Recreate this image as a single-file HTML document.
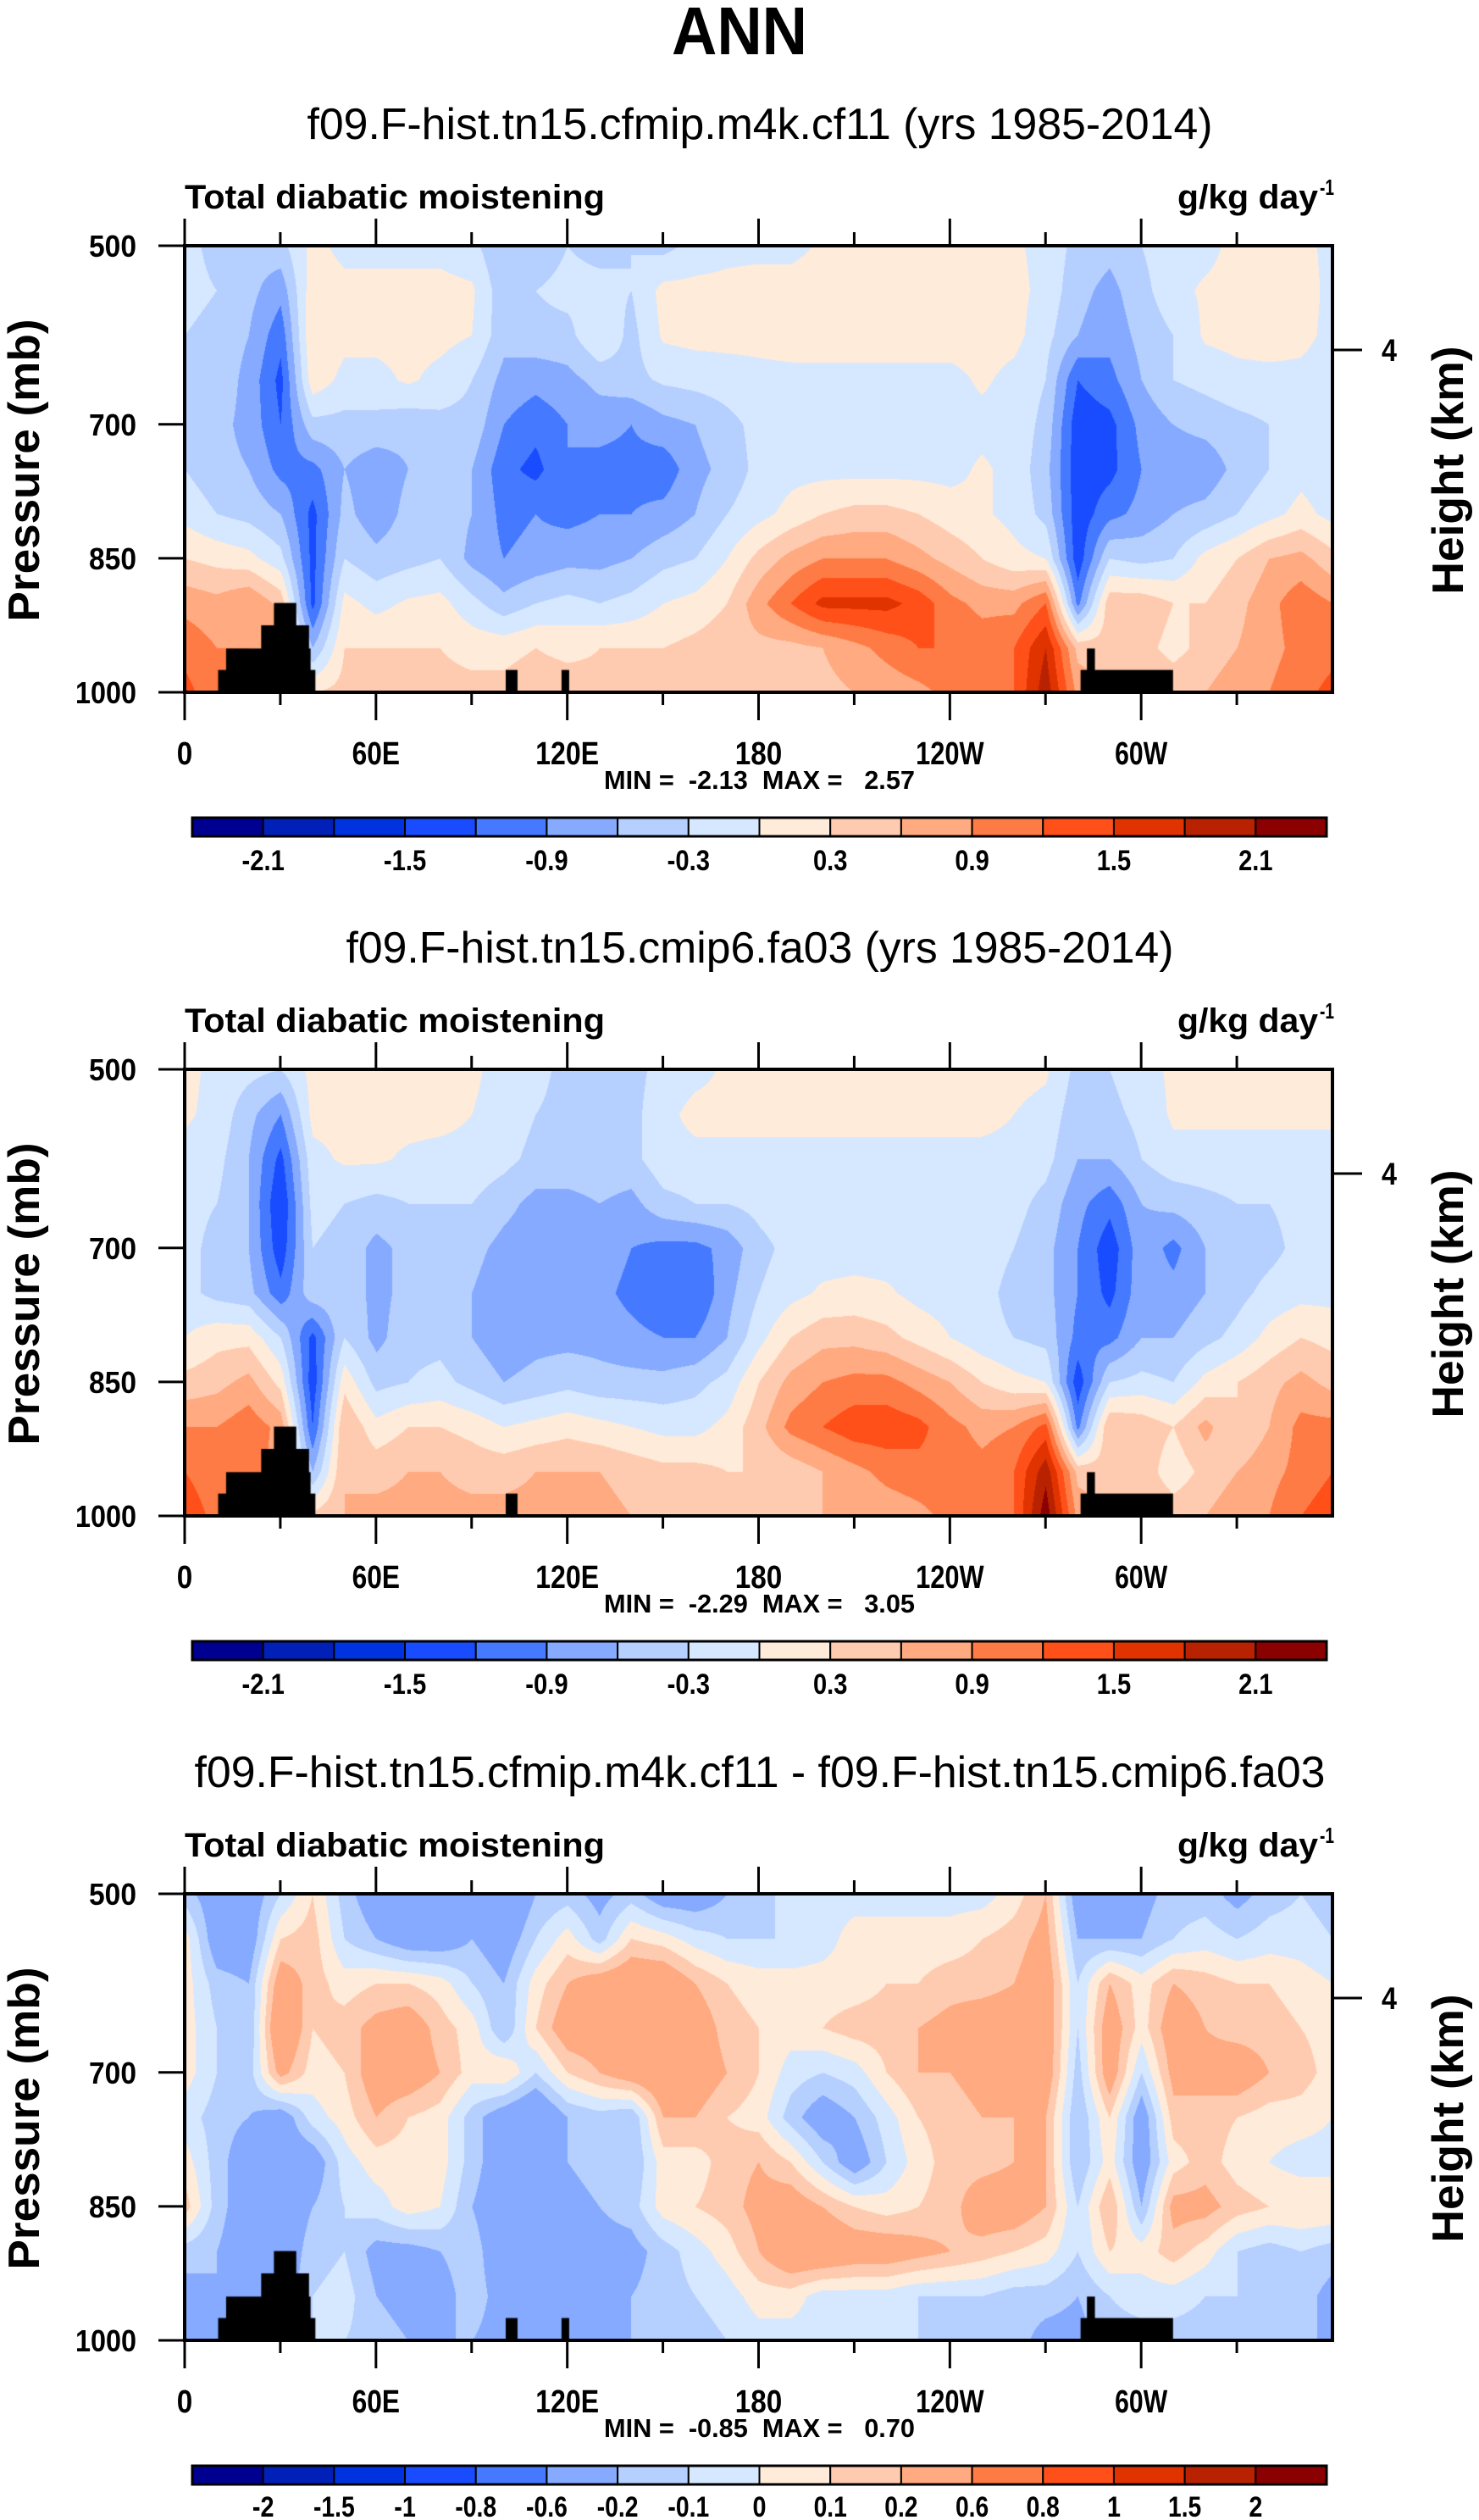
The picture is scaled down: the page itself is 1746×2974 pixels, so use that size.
<!DOCTYPE html>
<html><head><meta charset="utf-8">
<style>
html,body{margin:0;padding:0;background:#fff;}
#root{position:relative;width:1746px;height:2974px;overflow:hidden;background:#fff;}
canvas{position:absolute;}
svg{position:absolute;left:0;top:0;}
text{font-family:"Liberation Sans",sans-serif;fill:#000;white-space:pre;}
</style></head>
<body>
<div id="root">
<canvas id="c1"></canvas>
<canvas id="c2"></canvas>
<canvas id="c3"></canvas>
<svg id="ov" width="1746" height="2974"></svg>
</div>
<script>
// ---------- data ----------
const lons = [0,10,20,30,40,50,60,70,80,90,100,110,120,130,140,150,160,170,180,190,200,210,220,230,240,250,260,270,280,290,300,310,320,330,340,350,360];
const plevs = [500,550,600,650,700,750,800,850,900,950,1000];
const field1 = [
[-0.2,-0.4,-0.5,-0.4,0.1,-0.1,-0.1,-0.1,-0.1,-0.2,-0.6,-0.5,-0.3,-0.4,-0.3,-0.4,-0.2,-0.1,-0.1,-0.1,0.05,0.1,0.1,0.1,0.1,0.1,0.05,-0.1,-0.4,-0.5,-0.3,-0.1,-0.1,0.1,0.1,0.1,-0.1],
[-0.2,-0.3,-0.5,-0.8,0.2,0.1,0.1,0.1,0.1,0.05,-0.5,-0.3,-0.2,-0.2,-0.3,0.1,0.1,0.1,0.15,0.15,0.15,0.15,0.15,0.15,0.15,0.15,0.1,-0.1,-0.5,-0.7,-0.4,-0.1,0.05,0.1,0.15,0.15,-0.1],
[-0.3,-0.4,-0.6,-1.1,0.3,0.1,0.1,0.1,0.1,0.0,-0.5,-0.4,-0.4,0.0,-0.4,0.05,0.1,0.1,0.1,0.15,0.15,0.15,0.15,0.15,0.15,0.15,0.1,-0.2,-0.6,-0.8,-0.5,-0.3,0.05,0.1,0.15,0.1,-0.1],
[-0.3,-0.4,-0.7,-1.3,0.2,-0.1,-0.1,0.05,-0.1,-0.3,-0.7,-0.8,-0.7,-0.5,-0.4,-0.25,-0.2,-0.15,-0.1,-0.1,-0.1,-0.1,-0.1,-0.1,-0.1,0.05,-0.1,-0.3,-1.2,-1.0,-0.6,-0.3,-0.2,-0.1,-0.1,-0.1,-0.2],
[-0.3,-0.5,-0.7,-1.2,-0.4,-0.4,-0.4,-0.5,-0.4,-0.4,-0.9,-1.1,-0.9,-0.8,-0.9,-0.7,-0.6,-0.4,-0.2,-0.15,-0.1,-0.1,-0.1,-0.1,-0.1,-0.1,-0.1,-0.4,-1.4,-1.3,-0.8,-0.6,-0.5,-0.4,-0.3,-0.2,-0.3],
[-0.3,-0.5,-0.6,-1.0,-1.0,-0.6,-0.8,-0.6,-0.5,-0.6,-1.1,-1.3,-0.9,-1.0,-1.0,-1.1,-0.7,-0.5,-0.2,-0.1,-0.1,-0.1,-0.1,-0.1,-0.1,0.05,-0.1,-0.5,-1.4,-1.3,-0.9,-0.8,-0.8,-0.5,-0.3,-0.1,-0.2],
[-0.1,-0.3,-0.4,-0.6,-1.3,-0.5,-0.8,-0.5,-0.4,-0.6,-1.0,-0.9,-1.0,-0.9,-0.9,-0.8,-0.6,-0.3,-0.1,0.1,0.3,0.4,0.4,0.3,0.15,0.05,-0.1,-0.4,-1.4,-1.0,-0.8,-0.6,-0.5,-0.3,-0.1,0.1,-0.1],
[0.3,0.2,0.1,-0.2,-1.3,-0.3,-0.5,-0.4,-0.3,-0.7,-0.9,-0.8,-0.7,-0.7,-0.6,-0.4,-0.3,0.0,0.4,0.7,0.9,0.9,0.9,0.7,0.5,0.3,0.1,0.0,-1.4,-0.3,-0.4,-0.3,0.1,0.3,0.6,0.7,0.4],
[0.8,0.7,0.9,0.5,-1.3,0.1,-0.1,0.05,0.1,-0.2,-0.5,-0.3,-0.2,-0.3,-0.2,0.0,0.1,0.3,0.8,1.2,1.6,1.6,1.6,1.4,1.0,0.8,0.8,1.2,-1.0,0.5,0.5,0.3,0.3,0.5,0.8,1.1,0.9],
[1.1,0.9,0.9,0.8,-0.6,0.3,0.3,0.3,0.3,0.2,0.2,0.3,0.2,0.3,0.3,0.3,0.4,0.5,0.5,0.5,0.6,0.8,1.0,1.2,1.2,1.1,1.2,1.8,0.5,0.4,0.4,0.2,0.4,0.6,0.8,1.0,1.1],
[1.3,1.0,1.0,0.8,0.3,0.4,0.4,0.4,0.4,0.4,0.4,0.5,0.5,0.4,0.4,0.4,0.4,0.4,0.4,0.5,0.5,0.6,0.7,0.8,1.0,1.1,1.2,2.0,0.8,0.6,0.6,0.5,0.6,0.8,0.9,1.1,1.3]
];
const field2 = [
[0.1,-0.1,-0.2,-0.3,0.1,0.1,0.1,0.1,0.1,0.05,-0.1,-0.2,-0.4,-0.3,-0.4,-0.2,-0.1,0.05,0.1,0.1,0.1,0.1,0.1,0.1,0.1,0.1,0.1,0.05,-0.4,-0.3,-0.1,0.05,0.1,0.1,0.1,0.1,0.1],
[0.05,-0.1,-0.5,-0.9,0.1,0.1,0.1,0.1,0.1,0.0,-0.1,-0.3,-0.4,-0.3,-0.4,-0.1,0.1,0.1,0.1,0.1,0.1,0.1,0.1,0.1,0.1,0.1,0.0,-0.1,-0.5,-0.4,-0.2,0.05,0.05,0.05,0.05,0.05,0.05],
[-0.1,-0.2,-0.6,-1.3,-0.1,0.05,0.05,-0.05,-0.1,-0.1,-0.2,-0.4,-0.4,-0.4,-0.4,-0.1,-0.1,-0.1,-0.1,-0.1,-0.1,-0.1,-0.1,-0.1,-0.1,-0.1,-0.1,-0.2,-0.6,-0.6,-0.3,-0.1,-0.1,-0.1,-0.1,-0.1,-0.1],
[-0.2,-0.3,-0.6,-1.5,-0.2,-0.3,-0.4,-0.3,-0.3,-0.3,-0.5,-0.7,-0.7,-0.6,-0.7,-0.4,-0.3,-0.3,-0.2,-0.1,-0.1,-0.1,-0.1,-0.1,-0.1,-0.1,-0.2,-0.4,-0.8,-1.1,-0.6,-0.5,-0.4,-0.3,-0.3,-0.2,-0.2],
[-0.2,-0.4,-0.6,-1.4,-0.3,-0.4,-0.7,-0.5,-0.4,-0.5,-0.7,-0.8,-0.9,-0.7,-0.9,-1.0,-1.0,-0.8,-0.4,-0.2,-0.15,-0.15,-0.15,-0.15,-0.15,-0.15,-0.3,-0.5,-0.9,-1.4,-0.7,-1.0,-0.6,-0.5,-0.4,-0.2,-0.2],
[-0.2,-0.4,-0.5,-1.1,-0.4,-0.4,-0.7,-0.5,-0.4,-0.6,-0.8,-0.9,-0.8,-0.8,-1.0,-1.2,-1.2,-0.7,-0.3,-0.1,0.05,0.1,0.05,-0.1,-0.15,-0.2,-0.4,-0.5,-0.9,-1.3,-0.7,-0.8,-0.6,-0.4,-0.2,-0.1,-0.1],
[0.0,0.2,0.2,-0.3,-1.3,-0.3,-0.7,-0.4,-0.4,-0.6,-0.8,-0.7,-0.7,-0.7,-0.8,-0.9,-0.9,-0.6,-0.1,0.3,0.5,0.5,0.4,0.2,0.0,-0.2,-0.3,-0.4,-1.0,-1.0,-0.6,-0.6,-0.4,-0.2,0.1,0.3,0.2],
[0.4,0.5,0.7,0.2,-1.4,0.2,-0.4,-0.3,-0.2,-0.4,-0.6,-0.5,-0.4,-0.5,-0.5,-0.5,-0.4,-0.2,0.3,0.7,0.9,1.0,1.0,0.8,0.6,0.3,0.1,0.0,-1.4,-0.3,-0.2,-0.3,0.1,0.3,0.5,0.7,0.5],
[0.9,0.9,1.1,0.8,-1.2,0.6,0.1,0.3,0.3,0.2,0.0,0.1,0.2,0.1,0.0,-0.1,-0.1,0.1,0.5,1.0,1.2,1.4,1.4,1.3,1.0,0.8,0.9,1.3,-1.0,0.6,0.5,0.3,0.7,0.3,0.6,1.0,1.0],
[1.2,1.0,1.0,0.8,-0.6,0.6,0.5,0.6,0.6,0.5,0.5,0.6,0.6,0.6,0.5,0.4,0.4,0.3,0.3,0.4,0.6,0.8,1.0,1.1,1.1,1.0,1.2,2.0,0.5,0.4,0.5,0.1,0.4,0.6,0.8,1.0,1.2],
[1.4,1.1,1.0,0.8,0.4,0.6,0.7,0.7,0.7,0.7,0.7,0.7,0.7,0.7,0.6,0.6,0.5,0.5,0.5,0.5,0.6,0.6,0.7,0.8,1.0,1.1,1.2,2.3,0.8,0.6,0.6,0.5,0.6,0.8,0.9,1.2,1.4]
];
const field3 = [
[-0.15,-0.3,-0.3,-0.1,0.1,-0.15,-0.3,-0.3,-0.3,-0.3,-0.4,-0.2,-0.15,-0.25,-0.15,-0.3,-0.3,-0.2,-0.15,-0.05,-0.05,-0.05,-0.05,-0.05,-0.05,-0.05,0.05,0.2,-0.3,-0.3,-0.25,-0.15,-0.15,-0.25,-0.15,-0.1,-0.15],
[0.05,-0.3,-0.3,0.1,0.15,-0.1,-0.2,-0.3,-0.3,-0.2,-0.3,-0.1,0.05,-0.15,0.1,0.05,-0.05,-0.1,-0.1,-0.1,-0.05,0.05,0.05,0.05,0.05,0.1,0.15,0.25,-0.2,-0.2,-0.2,-0.1,-0.05,-0.1,-0.05,-0.05,-0.1],
[0.05,-0.15,-0.2,0.3,0.15,0.05,0.1,0.1,0.05,-0.1,-0.2,0.05,0.2,0.3,0.35,0.35,0.2,0.1,0.05,0.05,0.05,0.05,0.1,0.1,0.15,0.15,0.2,0.3,-0.1,0.2,0.05,0.2,0.15,0.1,0.1,0.05,0.0],
[0.05,-0.1,-0.2,0.4,0.1,0.15,0.25,0.3,0.15,0.05,-0.2,0.1,0.3,0.3,0.35,0.4,0.3,0.15,0.1,0.05,0.1,0.15,0.15,0.2,0.25,0.3,0.3,0.3,-0.1,0.3,0.05,0.3,0.2,0.15,0.15,0.1,0.05],
[0.05,-0.1,-0.15,0.25,0.05,0.1,0.3,0.3,0.2,0.05,0.1,-0.1,0.1,0.2,0.3,0.35,0.3,0.2,0.1,-0.05,-0.1,-0.05,0.1,0.2,0.2,0.25,0.35,0.3,-0.15,0.3,-0.1,0.25,0.25,0.3,0.2,0.15,0.05],
[-0.05,-0.15,-0.2,-0.3,-0.05,0.05,0.2,0.1,0.05,-0.15,-0.3,-0.4,-0.2,-0.15,-0.2,0.2,0.2,0.1,0.05,-0.15,-0.3,-0.2,-0.05,0.1,0.15,0.2,0.2,0.2,-0.2,0.1,-0.3,0.15,0.15,0.1,0.05,0.05,0.0],
[0.05,-0.15,-0.3,-0.3,-0.3,-0.05,0.05,0.05,0.05,-0.15,-0.3,-0.5,-0.2,-0.1,-0.2,0.05,0.05,0.15,0.2,0.1,-0.1,-0.3,-0.1,0.05,0.15,0.15,0.2,0.2,-0.2,0.05,-0.3,0.05,0.15,0.05,0.0,-0.05,-0.05],
[0.15,-0.15,-0.3,-0.3,-0.2,-0.1,-0.05,0.05,0.0,-0.2,-0.3,-0.4,-0.3,-0.2,-0.15,0.05,0.1,0.15,0.25,0.3,0.2,0.1,0.05,0.1,0.15,0.3,0.3,0.2,-0.1,0.2,-0.2,0.25,0.25,0.15,0.1,0.1,0.1],
[-0.15,-0.2,-0.3,-0.3,-0.15,-0.1,-0.25,-0.25,-0.2,-0.15,-0.3,-0.35,-0.3,-0.25,-0.25,-0.15,-0.05,0.05,0.2,0.35,0.35,0.3,0.3,0.25,0.2,0.15,0.1,0.05,-0.1,0.1,0.05,0.15,0.05,-0.1,-0.15,-0.1,-0.15],
[-0.25,-0.2,-0.3,-0.3,-0.1,-0.05,-0.2,-0.25,-0.25,-0.15,-0.25,-0.25,-0.25,-0.25,-0.2,-0.15,-0.1,-0.05,0.05,0.05,-0.05,-0.05,-0.05,-0.1,-0.1,-0.1,-0.15,-0.15,-0.2,-0.1,-0.05,-0.05,-0.1,-0.1,-0.15,-0.15,-0.25],
[-0.25,-0.2,-0.3,-0.3,-0.1,-0.1,-0.15,-0.2,-0.2,-0.2,-0.25,-0.25,-0.25,-0.25,-0.2,-0.15,-0.15,-0.1,-0.05,-0.05,-0.05,-0.1,-0.1,-0.1,-0.15,-0.15,-0.15,-0.25,-0.25,-0.15,-0.15,-0.15,-0.15,-0.15,-0.15,-0.15,-0.25]
];
const levelsAbs = [-2.1,-1.8,-1.5,-1.2,-0.9,-0.6,-0.3,0,0.3,0.6,0.9,1.2,1.5,1.8,2.1];
const levelsDiff = [-2,-1.5,-1,-0.8,-0.6,-0.2,-0.1,0,0.1,0.2,0.6,0.8,1,1.5,2];
const cbLabelsAbs = ["-2.1","-1.5","-0.9","-0.3","0.3","0.9","1.5","2.1"];
const cbLabelsDiff = ["-2","-1.5","-1","-0.8","-0.6","-0.2","-0.1","0","0.1","0.2","0.6","0.8","1","1.5","2"];
const palette = ["#000090","#0020B8","#0033E0","#1A4CFF","#4579FF","#85AAFF","#B5CFFF","#D6E8FF","#FFEBD9","#FFCBB0","#FFAA80","#FF7B45","#FF5019","#E03300","#B82200","#8B0000"];
const xTickLons = [0,60,120,180,240,300];
const xTickLabels = ["0","60E","120E","180","120W","60W"];
const yTickP = [500,700,850,1000];
const landLon0 = [10.5,13,24,28,100.7,118.2,281,283];
const landLon1 = [41,39.5,39,35,104.4,120.6,310,285.5];
const landTop  = [975,951,925,900,975,975,975,951];
const titles = ["f09.F-hist.tn15.cfmip.m4k.cf11 (yrs 1985-2014)","f09.F-hist.tn15.cmip6.fa03 (yrs 1985-2014)","f09.F-hist.tn15.cfmip.m4k.cf11 - f09.F-hist.tn15.cmip6.fa03"];
const minMax = ["MIN =  -2.13  MAX =   2.57","MIN =  -2.29  MAX =   3.05","MIN =  -0.85  MAX =   0.70"];

// ---------- layout ----------
const X0=218, X1=1573, PH=527;
const offsets=[0,972,1945];
const NS='http://www.w3.org/2000/svg';
const ov=document.getElementById('ov');
function xS(lon){return X0+lon/360*(X1-X0);}
function yS(p,off){return 290+off+(p-500)/500*PH;}
function hexRGB(h){return [parseInt(h.slice(1,3),16),parseInt(h.slice(3,5),16),parseInt(h.slice(5,7),16)];}
const palRGB=palette.map(hexRGB);
function mk(tag,attrs,parent){const e=document.createElementNS(NS,tag);for(const k in attrs)e.setAttribute(k,attrs[k]);(parent||ov).appendChild(e);return e;}
function txt(s,attrs){const e=mk('text',attrs);e.textContent=s;return e;}
// condensed width estimate (NCL helvetica-bold look)
function estW(s,dig){let w=0;for(const ch of s){if(ch==='.')w+=dig*0.45;else if(ch==='-')w+=dig*0.6;else if(ch==='W')w+=dig*1.35;else if(ch==='E')w+=dig*1.05;else w+=dig;}return w;}

function interp(field,lon,p){
  let fi=lon/10; let i=Math.min(Math.floor(fi),lons.length-2); let tx=fi-i;
  let fj=(p-500)/50; let j=Math.min(Math.floor(fj),plevs.length-2); let ty=fj-j;
  const a=field[j][i],b=field[j][i+1],c=field[j+1][i],d=field[j+1][i+1];
  return (a*(1-tx)+b*tx)*(1-ty)+(c*(1-tx)+d*tx)*ty;
}
function drawField(cid,field,levels,off,landIdx){
  const cv=document.getElementById(cid);
  const w=X1-X0, h=PH;
  cv.width=w; cv.height=h; cv.style.left=X0+'px'; cv.style.top=(290+off)+'px';
  const ctx=cv.getContext('2d'); const img=ctx.createImageData(w,h);
  for(let y=0;y<h;y++){const p=500+y/h*500;
    for(let x=0;x<w;x++){const lon=x/w*360; const v=interp(field,lon,p);
      let k=0; while(k<levels.length && v>=levels[k]) k++;
      const c=palRGB[k]; const o=(y*w+x)*4; img.data[o]=c[0];img.data[o+1]=c[1];img.data[o+2]=c[2];img.data[o+3]=255;}}
  ctx.putImageData(img,0,0);
  ctx.fillStyle='#000';
  landIdx.forEach(i=>{const xa=xS(landLon0[i])-X0, xb=xS(landLon1[i])-X0, ya=yS(landTop[i],0)-290;
    ctx.fillRect(xa,ya,xb-xa,h-ya);});
}
drawField('c1',field1,levelsAbs,offsets[0],[0,1,2,3,4,5,6,7]);
drawField('c2',field2,levelsAbs,offsets[1],[0,1,2,3,4,6,7]);
drawField('c3',field3,levelsDiff,offsets[2],[0,1,2,3,4,5,6,7]);

const ann=txt('ANN',{x:873,y:64,'text-anchor':'middle','font-size':80,'font-weight':'bold',textLength:160,lengthAdjust:'spacingAndGlyphs'});



const tLens=[1069,977,1335];
offsets.forEach((off,pi)=>{
  const g=mk('g',{});
  
  
  const st=txt(titles[pi],{x:897,y:164+off,'text-anchor':'middle','font-size':52,textLength:tLens[pi],lengthAdjust:'spacingAndGlyphs'});
  
  
  const lt=txt('Total diabatic moistening',{x:218,y:246+off,'font-size':40,'font-weight':'bold',textLength:496,lengthAdjust:'spacingAndGlyphs'});
  
  
  const ut=txt('g/kg day',{x:1390,y:246+off,'font-size':40,'font-weight':'bold',textLength:166,lengthAdjust:'spacingAndGlyphs'});
  
  
  const us=txt('-1',{x:1558,y:230+off,'font-size':26,'font-weight':'bold',textLength:17,lengthAdjust:'spacingAndGlyphs'});
  
  
  const fr=mk('rect',{x:X0,y:290+off,width:X1-X0,height:PH,fill:'none',stroke:'#000','stroke-width':4});
  
  
  for(let lon=0;lon<=330;lon+=30){
    const major=lon%60===0; const x=xS(lon);
    const tt=mk('line',{x1:x,x2:x,y1:290+off,y2:290+off-(major?32:16),stroke:'#000','stroke-width':3});
    
    
    const tb=mk('line',{x1:x,x2:x,y1:817+off,y2:817+off+(major?33:15),stroke:'#000','stroke-width':3});
    
    
  }
  xTickLons.forEach((lon,i)=>{
    const s=xTickLabels[i];
    const t=txt(s,{x:xS(lon),y:902+off,'text-anchor':'middle','font-size':38,'font-weight':'bold',textLength:estW(s,18.5).toFixed(1),lengthAdjust:'spacingAndGlyphs'});
    
    
  });
  yTickP.forEach(p=>{
    const y=yS(p,off);
    const l=mk('line',{x1:187,x2:X0,y1:y,y2:y,stroke:'#000','stroke-width':3});
    
    
    const t=txt(String(p),{x:161,y:y+13,'text-anchor':'end','font-size':36,'font-weight':'bold',textLength:p===1000?72:56,lengthAdjust:'spacingAndGlyphs'});
    
    
  });
  const rt=mk('line',{x1:X1,x2:1608,y1:413+off,y2:413+off,stroke:'#000','stroke-width':3});
  
  
  const r4=txt('4',{x:1640,y:426+off,'text-anchor':'middle','font-size':37,'font-weight':'bold',textLength:18,lengthAdjust:'spacingAndGlyphs'});
  
  
  const yl=txt('Pressure (mb)',{x:0,y:0,'text-anchor':'middle','font-size':52,'font-weight':'bold',transform:'translate(46,'+(555+off)+') rotate(-90)',textLength:357,lengthAdjust:'spacingAndGlyphs'});
  
  
  const hl=txt('Height (km)',{x:0,y:0,'text-anchor':'middle','font-size':52,'font-weight':'bold',transform:'translate(1727,'+(555+off)+') rotate(-90)',textLength:293,lengthAdjust:'spacingAndGlyphs'});
  
  
  const mm=txt(minMax[pi],{x:713,y:931+off,'font-size':31,'font-weight':'bold',textLength:367,lengthAdjust:'spacingAndGlyphs'});
  
  
  const cy=965+off, bw=(1566-227)/16;
  palette.forEach((c,i)=>{
    const r=mk('rect',{x:227+i*bw,y:cy,width:bw,height:22,fill:c,stroke:'#000','stroke-width':2});
    
    
  });
  const cbo=mk('rect',{x:227,y:cy,width:1566-227,height:22,fill:'none',stroke:'#000','stroke-width':3});
  
  
  if(pi<2){
    cbLabelsAbs.forEach((s,i)=>{
      const t=txt(s,{x:227+bw*(2*i+1),y:cy+62,'text-anchor':'middle','font-size':34,'font-weight':'bold',textLength:estW(s,16.5).toFixed(1),lengthAdjust:'spacingAndGlyphs'});
      
      
    });
  } else {
    cbLabelsDiff.forEach((s,i)=>{
      const t=txt(s,{x:227+bw*(i+1),y:cy+60,'text-anchor':'middle','font-size':34,'font-weight':'bold',textLength:estW(s,16).toFixed(1),lengthAdjust:'spacingAndGlyphs'});
      
      
    });
  }
});
</script>
</body></html>
